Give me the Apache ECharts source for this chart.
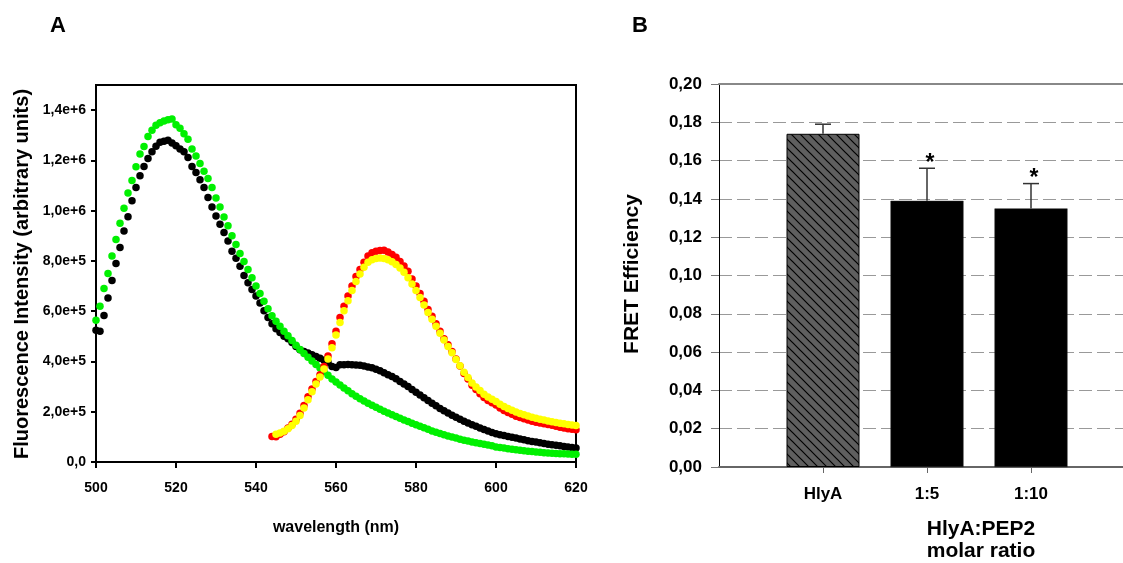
<!DOCTYPE html>
<html><head><meta charset="utf-8">
<script src="https://cdn.jsdelivr.net/npm/echarts@6/dist/echarts.min.js"></script>
<style>html,body{margin:0;padding:0;background:#fff;overflow:hidden}#c{width:1123px;height:563px}</style>
</head><body><div id="c"></div>
<script>
// ---------- Panel A data (fluorescence, units of 1e5, one point per nm) ----------
const greenStart = 500;
const greenE5 = [5.64,6.2,6.9,7.5,8.2,8.85,9.5,10.1,10.7,11.2,
 11.75,12.25,12.55,12.95,13.2,13.4,13.5,13.57,13.62,13.65,
 13.42,13.28,13.06,12.84,12.45,12.18,11.88,11.57,11.28,10.92,
 10.5,10.15,9.75,9.4,9.0,8.65,8.3,7.98,7.66,7.33,
 7.0,6.7,6.4,6.1,5.82,5.6,5.4,5.2,5.02,4.83,
 4.65,4.48,4.32,4.17,4.02,3.88,3.74,3.6,3.45,3.3,
 3.18,3.06,2.94,2.83,2.72,2.62,2.52,2.43,2.34,2.26,
 2.18,2.1,2.02,1.95,1.88,1.81,1.74,1.67,1.61,1.54,
 1.48,1.42,1.36,1.3,1.23,1.18,1.13,1.08,1.03,0.99,
 0.95,0.91,0.87,0.84,0.8,0.77,0.74,0.71,0.68,0.65,
 0.6,0.58,0.56,0.53,0.51,0.49,0.47,0.45,0.43,0.42,
 0.4,0.39,0.37,0.36,0.35,0.34,0.33,0.33,0.32,0.31,
 0.31];
const blackStart = 500;
const blackE5 = [5.24,5.2,5.83,6.53,7.22,7.9,8.53,9.19,9.76,10.39,
 10.92,11.39,11.76,12.08,12.34,12.56,12.72,12.76,12.8,12.69,
 12.58,12.45,12.34,12.12,11.76,11.52,11.23,10.92,10.52,10.15,
 9.79,9.46,9.13,8.79,8.39,8.11,7.79,7.42,7.13,6.86,
 6.6,6.33,6.02,5.75,5.5,5.3,5.15,5.0,4.9,4.75,
 4.6,4.47,4.4,4.34,4.27,4.2,4.13,4.05,3.97,3.8,
 3.76,3.87,3.87,3.88,3.87,3.86,3.85,3.82,3.78,3.75,
 3.69,3.63,3.55,3.47,3.4,3.31,3.2,3.1,3.0,2.88,
 2.78,2.67,2.56,2.45,2.34,2.24,2.13,2.04,1.95,1.86,
 1.78,1.7,1.62,1.55,1.48,1.42,1.35,1.29,1.23,1.17,
 1.12,1.08,1.05,1.01,0.98,0.95,0.92,0.89,0.85,0.82,
 0.8,0.77,0.74,0.71,0.69,0.67,0.65,0.62,0.6,0.58,
 0.56];
const redStart = 544;
const redE5 = [1.01,1.0,1.1,1.2,1.35,1.5,1.7,1.94,2.25,2.6,
 2.9,3.2,3.47,3.8,4.22,4.7,5.2,5.75,6.2,6.6,
 7.0,7.38,7.66,7.95,8.2,8.33,8.39,8.42,8.43,8.36,
 8.26,8.15,7.98,7.8,7.59,7.28,7.0,6.7,6.4,6.07,
 5.8,5.5,5.2,4.9,4.67,4.4,4.1,3.82,3.52,3.3,
 3.05,2.88,2.72,2.57,2.45,2.36,2.27,2.15,2.05,1.97,
 1.9,1.82,1.77,1.72,1.67,1.62,1.58,1.55,1.52,1.49,
 1.46,1.42,1.38,1.35,1.32,1.3,1.28];
const yellowStart = 545;
const yellowE5 = [1.1,1.15,1.22,1.32,1.45,1.62,1.85,2.15,2.48,2.8,
 3.1,3.38,3.7,4.1,4.55,5.05,5.55,6.02,6.42,6.82,
 7.18,7.48,7.75,7.95,8.05,8.1,8.12,8.1,8.05,7.97,
 7.86,7.72,7.55,7.33,7.08,6.82,6.55,6.25,5.95,5.68,
 5.4,5.12,4.85,4.6,4.35,4.08,3.83,3.57,3.36,3.14,
 2.98,2.84,2.7,2.59,2.5,2.41,2.3,2.21,2.13,2.06,
 1.99,1.93,1.88,1.83,1.78,1.74,1.7,1.67,1.63,1.6,
 1.57,1.54,1.52,1.49,1.47,1.45];
const xTicksA = [500,520,540,560,580,600,620];
const yTicksA = [0,200000,400000,600000,800000,1000000,1200000,1400000];

// ---------- Panel B data ----------
const catsB = ['HlyA','1:5','1:10'];
const fretB = [0.174,0.139,0.135];
const errB = [0.005,0.017,0.013];
const sigB = ['', '*', '*'];
const yTicksB = [0,0.02,0.04,0.06,0.08,0.10,0.12,0.14,0.16,0.18,0.20];

const FONT = "'Liberation Sans', Arial, Helvetica, sans-serif";
const chart = echarts.init(document.getElementById('c'), null, {renderer:'canvas'});

function sciLabel(v){
  if (v === 0) return '0,0';
  const e = Math.floor(Math.log10(v) + 1e-9);
  const m = v / Math.pow(10, e);
  return m.toFixed(1).replace('.', ',') + 'e+' + e;
}
const toPairs = (start, arr) => arr.map((v, i) => [start + i, v * 1e5]);

// hatch pattern for the HlyA bar
const pat = document.createElement('canvas');
pat.width = 9; pat.height = 9;
const g = pat.getContext('2d');
g.fillStyle = '#5f5f5f'; g.fillRect(0, 0, 9, 9);
g.strokeStyle = '#000'; g.lineWidth = 1.2;
g.beginPath();
g.moveTo(-1, -1); g.lineTo(10, 10);
g.moveTo(8, -1); g.lineTo(10, 1);
g.moveTo(-1, 8); g.lineTo(1, 10);
g.stroke();

const catsAxisB = [''].concat(catsB, ['']);
const barData = ['-'].concat(catsB.map((c, i) => ({
  value: fretB[i],
  itemStyle: i === 0
    ? {color: {image: pat, repeat: 'repeat'}, borderColor: '#000', borderWidth: 1}
    : {color: '#000', borderColor: '#222', borderWidth: 0.5}
})), ['-']);
const errData = catsB.map((c, i) => [i + 1, fretB[i], errB[i]]);

const scatterBase = {type: 'scatter', xAxisIndex: 0, yAxisIndex: 0, symbol: 'circle',
  symbolSize: 7.5, clip: false, silent: true};

const option = {
  animation: false,
  backgroundColor: '#fff',
  textStyle: {fontFamily: FONT},
  grid: [
    {left: 96, top: 85, width: 480, height: 377, show: true, borderColor: '#000', borderWidth: 2,
     backgroundColor: 'transparent', outerBoundsMode: 'none', containLabel: false},
    {left: 719, top: 84, width: 416, height: 383, show: false, outerBoundsMode: 'none', containLabel: false}
  ],
  xAxis: [
    {gridIndex: 0, type: 'value', min: 500, max: 620, interval: 20,
     axisLine: {show: true, lineStyle: {color: '#000', width: 2}},
     axisTick: {show: true, length: 6, lineStyle: {color: '#000', width: 2}},
     axisLabel: {color: '#000', fontWeight: 'bold', fontSize: 14, fontFamily: FONT, margin: 19,
       customValues: xTicksA},
     splitLine: {show: false}},
    {gridIndex: 1, type: 'category', data: catsAxisB, boundaryGap: false,
     axisLine: {show: true, lineStyle: {color: '#666', width: 2}},
     axisTick: {show: true, length: 6, interval: (i, v) => v !== '', lineStyle: {color: '#666', width: 1}},
     axisLabel: {color: '#000', fontWeight: 'bold', fontSize: 17, fontFamily: FONT, margin: 19, interval: 0},
     splitLine: {show: false}},
    {gridIndex: 1, type: 'category', data: catsAxisB, boundaryGap: false, position: 'top',
     axisLine: {show: true, lineStyle: {color: '#888', width: 2}},
     axisTick: {show: false}, axisLabel: {show: false}, splitLine: {show: false}}
  ],
  yAxis: [
    {gridIndex: 0, type: 'value', min: 0, max: 1500000, interval: 200000,
     axisLine: {show: true, lineStyle: {color: '#000', width: 2}},
     axisTick: {show: true, length: 5, lineStyle: {color: '#000', width: 2}, customValues: yTicksA},
     axisLabel: {color: '#000', fontWeight: 'bold', fontSize: 14, fontFamily: FONT, margin: 10,
       customValues: yTicksA, formatter: sciLabel},
     splitLine: {show: false}},
    {gridIndex: 1, type: 'value', min: 0, max: 0.2, interval: 0.02,
     axisLine: {show: true, lineStyle: {color: '#000', width: 1}},
     axisTick: {show: true, length: 8, lineStyle: {color: '#777', width: 1}},
     axisLabel: {color: '#000', fontWeight: 'bold', fontSize: 17, fontFamily: FONT, margin: 17,
       formatter: v => v.toFixed(2).replace('.', ',')},
     splitLine: {show: true, lineStyle: {color: '#999', width: 1, type: [13, 5]}}}
  ],
  series: [
    Object.assign({}, scatterBase, {name: 'black', data: toPairs(blackStart, blackE5), itemStyle: {color: '#000', opacity: 1}}),
    Object.assign({}, scatterBase, {name: 'green', data: toPairs(greenStart, greenE5), itemStyle: {color: '#00f000', opacity: 1}}),
    Object.assign({}, scatterBase, {name: 'red', data: toPairs(redStart, redE5), itemStyle: {color: '#ff0000', opacity: 1}}),
    Object.assign({}, scatterBase, {name: 'yellow', data: toPairs(yellowStart, yellowE5), itemStyle: {color: '#ffff00', opacity: 1}}),
    {type: 'bar', xAxisIndex: 1, yAxisIndex: 1, data: barData, barWidth: 73, silent: true},
    {type: 'custom', xAxisIndex: 1, yAxisIndex: 1, data: errData, silent: true, z: 5,
     encode: {x: 0, y: 1},
     renderItem: function (params, api) {
       const xi = api.value(0), v = api.value(1), e = api.value(2);
       const p0 = api.coord([xi, v]);
       const p1 = api.coord([xi, v + e]);
       const children = [
         {type: 'line', shape: {x1: p0[0], y1: p0[1], x2: p1[0], y2: p1[1]}, style: {stroke: '#333', lineWidth: 1.5}},
         {type: 'line', shape: {x1: p1[0] - 8, y1: p1[1], x2: p1[0] + 8, y2: p1[1]}, style: {stroke: '#333', lineWidth: 1.5}}
       ];
       const s = sigB[params.dataIndex];
       if (s) children.push({type: 'text', style: {text: s, x: p1[0] + 3, y: p1[1] - 5,
         textAlign: 'center', textVerticalAlign: 'middle', font: 'bold 23px ' + FONT, fill: '#000'}});
       return {type: 'group', children: children};
     }}
  ],
  graphic: [
    {type: 'text', left: 50, top: 15, style: {text: 'A', font: 'bold 22px ' + FONT, fill: '#000'}},
    {type: 'text', left: 632, top: 15, style: {text: 'B', font: 'bold 22px ' + FONT, fill: '#000'}},
    {type: 'text', x: 22, y: 274, rotation: Math.PI / 2,
     style: {text: 'Fluorescence Intensity (arbitrary units)', font: 'bold 20px ' + FONT, fill: '#000', textAlign: 'center', textVerticalAlign: 'middle'}},
    {type: 'text', x: 336, y: 528,
     style: {text: 'wavelength (nm)', font: 'bold 16px ' + FONT, fill: '#000', textAlign: 'center', textVerticalAlign: 'middle'}},
    {type: 'text', x: 632, y: 274, rotation: Math.PI / 2,
     style: {text: 'FRET Efficiency', font: 'bold 21px ' + FONT, fill: '#000', textAlign: 'center', textVerticalAlign: 'middle'}},
    {type: 'text', x: 981, y: 529,
     style: {text: 'HlyA:PEP2', font: 'bold 21px ' + FONT, fill: '#000', textAlign: 'center', textVerticalAlign: 'middle'}},
    {type: 'text', x: 981, y: 551,
     style: {text: 'molar ratio', font: 'bold 21px ' + FONT, fill: '#000', textAlign: 'center', textVerticalAlign: 'middle'}}
  ]
};
chart.setOption(option);
</script>
</body></html>
